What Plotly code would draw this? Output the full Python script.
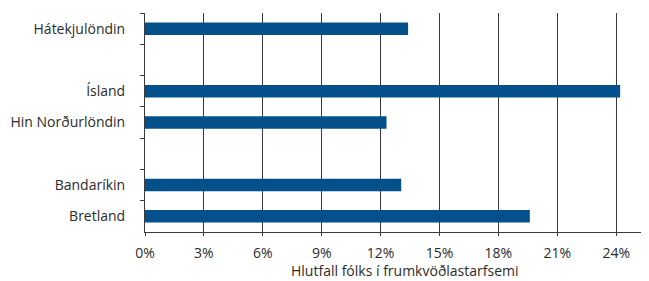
import plotly.graph_objects as go

categories = ["Hátekjulöndin", " ", "Ísland", "Hin Norðurlöndin", "  ", "Bandaríkin", "Bretland"]
values = [13.4, None, 24.2, 12.3, None, 13.05, 19.6]
x_ticks = [0, 3, 6, 9, 12, 15, 18, 21, 24]
x_tick_labels = ["0%", "3%", "6%", "9%", "12%", "15%", "18%", "21%", "24%"]
x_title = "Hlutfall fólks í frumkvöðlastarfsemi"

FONT = "Open Sans"
TXT = "#2b2b2b"
LINE = "#3a3a3a"

fig = go.Figure(go.Bar(
    x=values, y=categories, orientation="h",
    marker=dict(color="#03508a", line=dict(width=0)),
    hoverinfo="skip",
))

fig.update_layout(
    width=641, height=273,
    margin=dict(l=137, r=0, t=5, b=49),
    paper_bgcolor="white", plot_bgcolor="white",
    showlegend=False,
    bargap=0.6,
    font=dict(family=FONT, size=14, color=TXT),
    xaxis=dict(
        range=[0, 25.67],
        tickvals=x_ticks, ticktext=x_tick_labels,
        showgrid=True, gridcolor=LINE, gridwidth=1,
        zeroline=False,
        showline=True, linecolor=LINE, linewidth=1,
        ticks="outside", ticklen=3, tickcolor=LINE, tickwidth=1,
        tickfont=dict(family=FONT, size=14, color=TXT),
        ticklabelstandoff=5,
        fixedrange=True,
    ),
    yaxis=dict(
        type="category",
        categoryorder="array", categoryarray=categories,
        autorange="reversed",
        showgrid=False, zeroline=False,
        showline=True, linecolor=LINE, linewidth=1,
        ticks="outside", tickson="boundaries", ticklen=4, tickcolor=LINE, tickwidth=1,
        tickfont=dict(family=FONT, size=14, color=TXT),
        ticklabelstandoff=16,
        fixedrange=True,
    ),
    annotations=[dict(
        text=x_title, xref="paper", yref="paper",
        x=0.516, y=0, yshift=-38, xanchor="center", yanchor="middle",
        showarrow=False, font=dict(family=FONT, size=14, color=TXT),
    )],
)

fig.write_html("out.html", config={"displayModeBar": False})
